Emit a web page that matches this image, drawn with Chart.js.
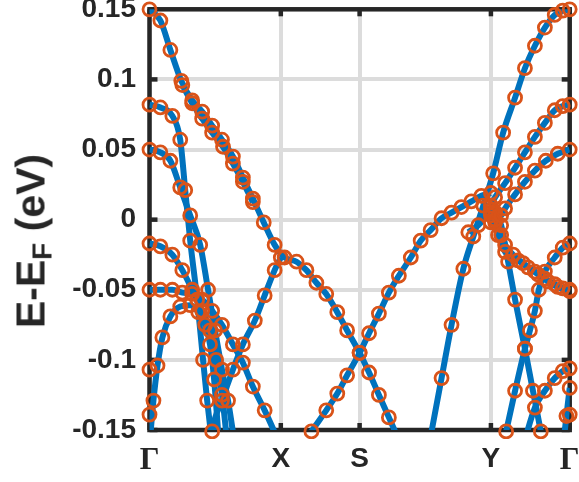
<!DOCTYPE html>
<html><head><meta charset="utf-8">
<script src="https://cdn.jsdelivr.net/npm/chart.js@4"></script>
<style>
html,body{margin:0;padding:0;background:#fff;}
#wrap{position:relative;width:579px;height:482px;}
#yl{position:absolute;left:31px;top:241px;transform:translate(-50%,-50%) rotate(-90deg);font:bold 41px "Liberation Sans",Arial,sans-serif;line-height:1;white-space:nowrap;color:#262626;}
#yl sub{font-size:0.68em;vertical-align:-0.25em;line-height:0;}
</style></head><body>
<div id="wrap"><canvas id="c" width="579" height="482"></canvas><div id="yl">E-E<sub>F</sub> (eV)</div></div>
<script>
// k-path tick positions and labels
const kTicks = [0, 1, 1.6, 2.6, 3.2];
const kLabels = ['Γ', 'X', 'S', 'Y', 'Γ'];
const yTicks = [-0.15, -0.1, -0.05, 0, 0.05, 0.1, 0.15];
const yLabels = ['-0.15', '-0.1', '-0.05', '0', '0.05', '0.1', '0.15'];

// bands (k, E-EF in eV)
const bandA_k = [0, 0.083, 0.159, 0.242, 0.325, 0.401, 0.477, 0.552, 0.635, 0.711, 0.787, 0.870, 0.953, 1.029, 1.120, 1.195, 1.271, 1.346, 1.430, 1.505, 1.6, 1.672, 1.747, 1.823, 1.96];
const bandA_E = [0.150, 0.142, 0.121, 0.099, 0.085, 0.077, 0.067, 0.057, 0.045, 0.030, 0.015, -0.002, -0.018, -0.027, -0.030, -0.036, -0.045, -0.053, -0.066, -0.079, -0.095, -0.109, -0.125, -0.141, -0.170];
const bandA2_k = [0.250, 0.325, 0.401, 0.477, 0.560, 0.635, 0.711, 0.787];
const bandA2_E = [0.096, 0.083, 0.072, 0.062, 0.052, 0.040, 0.027, 0.0125];
const bandB_k = [0, 0.083, 0.174, 0.234, 0.272, 0.310, 0.363, 0.408, 0.439, 0.49];
const bandB_E = [0.082, 0.080, 0.074, 0.057, 0.021, -0.015, -0.057, -0.100, -0.129, -0.170];
const bandC_k = [0, 0.083, 0.159, 0.234, 0.310, 0.386, 0.446, 0.499, 0.552, 0.598, 0.665];
const bandC_E = [0.050, 0.048, 0.042, 0.023, 0.003, -0.018, -0.050, -0.079, -0.107, -0.129, -0.170];
const bandN_k = [0, 0.083, 0.174, 0.250, 0.325, 0.401, 0.461, 0.507, 0.552, 0.604];
const bandN_E = [-0.017, -0.019, -0.025, -0.036, -0.050, -0.065, -0.079, -0.100, -0.125, -0.170];
const bandJ_k = [0, 0.083, 0.174, 0.250, 0.325, 0.401, 0.477, 0.552, 0.635, 0.711, 0.787, 0.877, 1.04];
const bandJ_E = [-0.050, -0.050, -0.050, -0.052, -0.053, -0.057, -0.065, -0.075, -0.089, -0.102, -0.119, -0.136, -0.170];
const bandQ_k = [0, 0.030, 0.061, 0.098, 0.159, 0.234, 0.310, 0.371, 0.424, 0.461, 0.492, 0.537];
const bandQ_E = [-0.161, -0.129, -0.104, -0.084, -0.069, -0.062, -0.061, -0.066, -0.075, -0.089, -0.114, -0.170];
const bandD_k = [0.455, 0.477, 0.552, 0.635, 0.711, 0.802, 0.877, 0.953, 1.0];
const bandD_E = [-0.170, -0.151, -0.129, -0.107, -0.089, -0.072, -0.054, -0.036, -0.027];
const bandE_k = [1.10, 1.233, 1.346, 1.430, 1.505, 1.6, 1.672, 1.747, 1.823, 1.899, 1.990, 2.065, 2.141, 2.224, 2.300, 2.375, 2.451, 2.527, 2.6];
const bandE_E = [-0.170, -0.151, -0.136, -0.124, -0.111, -0.095, -0.081, -0.067, -0.052, -0.040, -0.027, -0.015, -0.0075, 0.001, 0.005, 0.009, 0.013, 0.017, 0.019];
const bandF_k = [2.11, 2.224, 2.300, 2.390, 2.466, 2.542, 2.617, 2.693, 2.784, 2.859, 2.935, 3.011, 3.086, 3.147, 3.2];
const bandF_E = [-0.170, -0.113, -0.075, -0.035, -0.012, 0.010, 0.033, 0.062, 0.087, 0.108, 0.124, 0.137, 0.146, 0.149, 0.150];
const bandG_k = [2.6, 2.632, 2.708, 2.784, 2.859, 2.935, 3.011, 3.086, 3.147, 3.2];
const bandG_E = [0.010, 0.016, 0.026, 0.037, 0.048, 0.059, 0.069, 0.078, 0.081, 0.082];
const bandH_k = [2.6, 2.632, 2.678, 2.708, 2.784, 2.859, 2.935, 3.018, 3.109, 3.2];
const bandH_E = [-0.002, 0.000, 0.003, 0.008, 0.018, 0.027, 0.035, 0.042, 0.047, 0.050];
const bandR_k = [2.428, 2.504, 2.6, 2.632, 2.678, 2.708, 2.769, 2.844, 2.935, 3.011, 3.086, 3.147, 3.2];
const bandR_E = [-0.009, -0.004, 0.005, -0.002, -0.011, -0.018, -0.025, -0.031, -0.037, -0.042, -0.046, -0.049, -0.050];
const bandR2_k = [2.6, 2.654, 2.708, 2.806, 2.882, 2.958, 3.033, 3.109, 3.2];
const bandR2_E = [0.003, -0.011, -0.023, -0.029, -0.034, -0.039, -0.044, -0.048, -0.051];
const bandK_k = [2.6, 2.632, 2.678, 2.731, 2.784, 2.859, 2.920, 2.980, 3.018];
const bandK_E = [0.007, 0.005, -0.004, -0.030, -0.057, -0.092, -0.122, -0.151, -0.170];
const bandL_k = [2.674, 2.716, 2.784, 2.859, 2.897, 2.935, 2.965, 3.011, 3.086, 3.147, 3.2];
const bandL_E = [-0.170, -0.151, -0.122, -0.092, -0.079, -0.065, -0.050, -0.037, -0.027, -0.020, -0.017];
const bandM_k = [2.82, 2.935, 3.011, 3.086, 3.147, 3.2];
const bandM_E = [-0.170, -0.134, -0.122, -0.113, -0.108, -0.106];
const bandQr_k = [3.14, 3.175, 3.2];
const bandQr_E = [-0.170, -0.140, -0.120];
// extra DFT points at Γ
const extra_k = [0, 0, 3.2];
const extra_E = [-0.107, -0.139, -0.139];

const bands = [
  [bandA_k, bandA_E], [bandA2_k, bandA2_E], [bandB_k, bandB_E], [bandC_k, bandC_E],
  [bandN_k, bandN_E], [bandJ_k, bandJ_E], [bandQ_k, bandQ_E], [bandD_k, bandD_E],
  [bandE_k, bandE_E], [bandF_k, bandF_E], [bandG_k, bandG_E], [bandH_k, bandH_E],
  [bandR_k, bandR_E], [bandR2_k, bandR2_E], [bandK_k, bandK_E], [bandL_k, bandL_E],
  [bandM_k, bandM_E], [bandQr_k, bandQr_E]
];

const LINE = '#0072BD', MARK = '#D95319';
const ptClip = {left: 9, right: 9, top: 9, bottom: 9};
const ptStyle = {showLine: false, pointRadius: 6.5, pointHoverRadius: 6.5, pointBorderWidth: 2.8, pointBorderColor: MARK, pointBackgroundColor: 'rgba(0,0,0,0)', order: 1, clip: ptClip};
const datasets = [];
bands.forEach(([ks, es]) => {
  const pts = ks.map((k, i) => ({x: k, y: es[i]}));
  datasets.push({data: pts, borderColor: LINE, borderWidth: 6, pointRadius: 0, cubicInterpolationMode: 'monotone', fill: false, order: 2, clip: 0});
  datasets.push(Object.assign({data: pts}, ptStyle));
});
datasets.push(Object.assign({data: extra_k.map((k, i) => ({x: k, y: extra_E[i]}))}, ptStyle));

const AX = '#262626';
const boxPlugin = {
  id: 'box',
  beforeDatasetsDraw(chart) {
    const {ctx, chartArea: a, scales: {x, y}} = chart;
    ctx.save();
    ctx.strokeStyle = AX;
    ctx.lineWidth = 4.5;
    ctx.strokeRect(a.left, a.top, a.right - a.left, a.bottom - a.top);
    const seg = (x1, y1, x2, y2) => { ctx.beginPath(); ctx.moveTo(x1, y1); ctx.lineTo(x2, y2); ctx.stroke(); };
    kTicks.forEach(v => { const p = x.getPixelForValue(v); seg(p, a.bottom, p, a.bottom - 7); seg(p, a.top, p, a.top + 7); });
    yTicks.forEach(v => { const p = y.getPixelForValue(v); seg(a.left, p, a.left + 8, p); seg(a.right, p, a.right - 8, p); });
    ctx.restore();
  }
};

new Chart(document.getElementById('c'), {
  type: 'line',
  data: {datasets},
  options: {
    responsive: false,
    animation: false,
    devicePixelRatio: 1,
    layout: {padding: {top: 8.5, right: 7.5, left: 0, bottom: 0}},
    plugins: {legend: {display: false}, tooltip: {enabled: false}},
    scales: {
      x: {
        type: 'linear', min: 0, max: 3.2,
        afterBuildTicks: s => { s.ticks = kTicks.map(v => ({value: v})); },
        afterFit: s => { s.height = 52; s.paddingLeft = 0; s.paddingRight = 0; },
        ticks: {callback: (v, i) => kLabels[i], autoSkip: false, maxRotation: 0, padding: 12, color: AX,
                font: c => (kLabels[c.index] === 'Γ'
                  ? {family: '"Liberation Serif", "Times New Roman", serif', size: 31, weight: 'bold'}
                  : {family: '"Liberation Sans", Arial, sans-serif', size: 28, weight: 'bold'})},
        grid: {color: '#dcdcdc', lineWidth: 4, drawTicks: false},
        border: {display: false}
      },
      y: {
        type: 'linear', min: -0.15, max: 0.15,
        afterBuildTicks: s => { s.ticks = yTicks.map(v => ({value: v})); },
        afterFit: s => { s.width = 149.5; s.paddingTop = 0; s.paddingBottom = 0; },
        ticks: {callback: (v, i) => yLabels[i], autoSkip: false, padding: 13.5, color: AX,
                font: {family: '"Liberation Sans", Arial, sans-serif', size: 28, weight: 'bold'}},
        grid: {color: '#dcdcdc', lineWidth: 4, drawTicks: false},
        border: {display: false}
      }
    }
  },
  plugins: [boxPlugin]
});
</script>
</body></html>
